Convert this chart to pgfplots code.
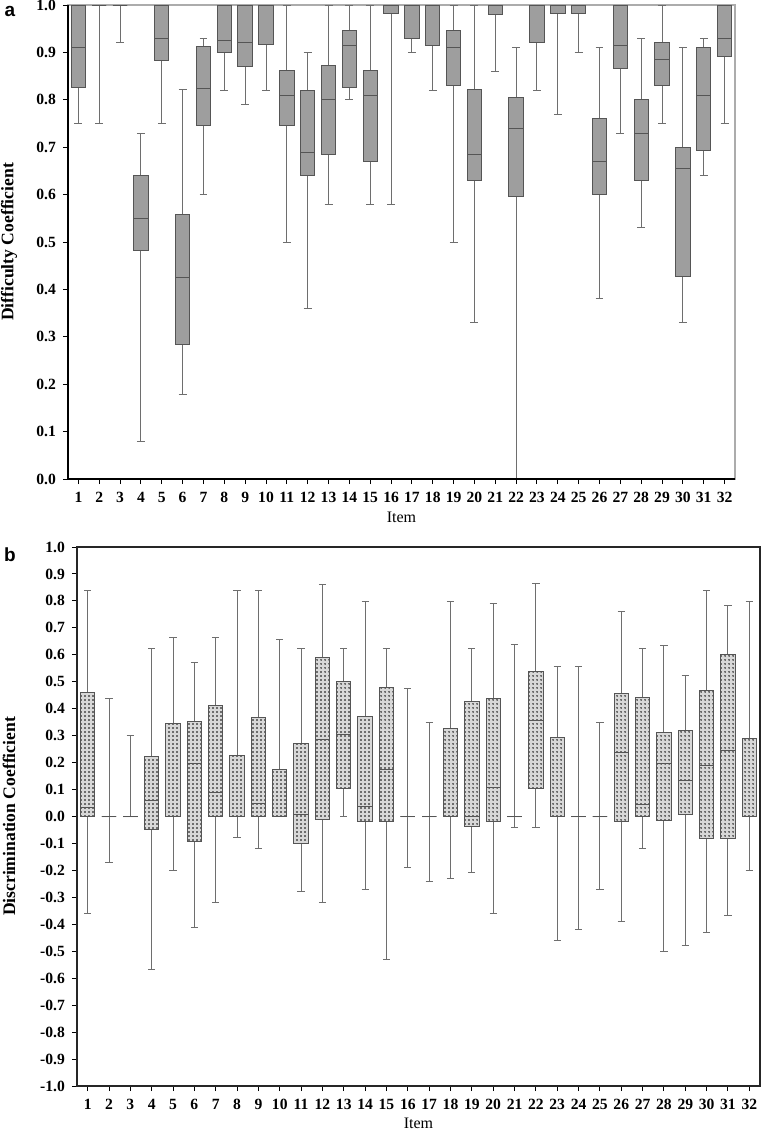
\documentclass[border=0pt]{standalone}
\usepackage{fontspec}
\setmainfont{Liberation Serif}
\newfontfamily\arialfont{Liberation Sans}
\usepackage{pgfplots}
\pgfplotsset{compat=1.18}
\usepgfplotslibrary{statistics}
\usetikzlibrary{patterns}

\definecolor{boxgray}{HTML}{9E9E9E}
\definecolor{boxedge}{HTML}{555555}
\definecolor{whiskgray}{HTML}{6E6E6E}
\definecolor{boxlight}{HTML}{D8D8D8}

\pgfdeclarepatternformonly{finedots}{\pgfqpoint{-0.5pt}{-0.5pt}}{\pgfqpoint{1.5pt}{1.5pt}}{\pgfqpoint{2pt}{2pt}}{\pgfpathcircle{\pgfqpoint{0.5pt}{0.5pt}}{0.38pt}\pgfusepath{fill}}

\pgfplotsset{
  panel/.style={
    scale only axis,
    anchor=south west,
    xmin=0.5, xmax=32.5,
    xtick={1,...,32},
    tick pos=left,
    tick align=outside,
    major tick length=2.5pt,
    tick style={black, line width=0.5pt},
    /pgf/number format/assume math mode=true,
    ticklabel style={font=\fontsize{7.8}{9}\selectfont\bfseries},
    yticklabel style={/pgf/number format/.cd, fixed, fixed zerofill, precision=1, assume math mode=true},
    xticklabel style={/pgf/number format/assume math mode=true, yshift=-0.5pt},
    xlabel={Item},
    xlabel style={font=\fontsize{8}{9}\selectfont, anchor=center},
    ylabel style={font=\fontsize{8.8}{10}\selectfont\bfseries, anchor=center},
  },
  boxA/.style={
    draw=boxedge, line width=0.5pt,
    boxplot/every box/.style={fill=boxgray, draw=boxedge},
    boxplot/every whisker/.style={draw=whiskgray},
    boxplot/every median/.style={draw=boxedge},
  },
  boxB/.style={
    draw=boxedge, line width=0.5pt,
    boxplot/every box/.style={fill=boxlight, draw=boxedge, postaction={pattern=finedots, pattern color=black}},
    boxplot/every whisker/.style={draw=whiskgray},
    boxplot/every median/.style={draw=boxedge},
  },
}
% item, lower whisker, lower quartile, median, upper quartile, upper whisker
\newcommand\bxA[6]{\addplot[boxA, boxplot prepared={draw direction=y, draw position=#1, lower whisker=#2, lower quartile=#3, median=#4, upper quartile=#5, upper whisker=#6, box extend=0.69, whisker extend=0.38}] coordinates {};}
\newcommand\bxB[6]{\addplot[boxB, boxplot prepared={draw direction=y, draw position=#1, lower whisker=#2, lower quartile=#3, median=#4, upper quartile=#5, upper whisker=#6, box extend=0.67, whisker extend=0.34}] coordinates {};}

\begin{document}
\begin{tikzpicture}
\useasboundingbox (0,0) rectangle (380.5pt,-564.5pt);

\begin{axis}[panel,
  at={(34pt,-239.5pt)},
  width=333.5pt, height=237pt,
  ymin=0, ymax=1,
  ytick={0,0.1,0.2,0.3,0.4,0.5,0.6,0.7,0.8,0.9,1.0},
  ylabel={Difficulty Coefficient},
  ylabel style={at={(axis description cs:-0.0885,0.5)}},
  xlabel style={at={(axis description cs:0.5,-0.080)}},
  axis line style={draw=gray!65, line width=0.6pt},
  clip=false,
]
\bxA{1}{0.75}{0.827}{0.91}{1.0}{1.0}
\bxA{2}{0.75}{1.0}{1.0}{1.0}{1.0}
\bxA{3}{0.92}{1.0}{1.0}{1.0}{1.0}
\bxA{4}{0.08}{0.483}{0.55}{0.641}{0.729}
\bxA{5}{0.75}{0.882}{0.93}{1.0}{1.0}
\bxA{6}{0.179}{0.284}{0.426}{0.557}{0.821}
\bxA{7}{0.60}{0.745}{0.824}{0.912}{0.929}
\bxA{8}{0.82}{0.90}{0.925}{1.0}{1.0}
\bxA{9}{0.79}{0.87}{0.92}{1.0}{1.0}
\bxA{10}{0.82}{0.917}{1.0}{1.0}{1.0}
\bxA{11}{0.50}{0.745}{0.81}{0.862}{1.0}
\bxA{12}{0.36}{0.64}{0.689}{0.82}{0.90}
\bxA{13}{0.58}{0.685}{0.80}{0.872}{1.0}
\bxA{14}{0.80}{0.827}{0.915}{0.946}{1.0}
\bxA{15}{0.58}{0.669}{0.81}{0.862}{1.0}
\bxA{16}{0.58}{0.982}{1.0}{1.0}{1.0}
\bxA{17}{0.90}{0.93}{1.0}{1.0}{1.0}
\bxA{18}{0.82}{0.915}{1.0}{1.0}{1.0}
\bxA{19}{0.50}{0.83}{0.91}{0.946}{1.0}
\bxA{20}{0.33}{0.63}{0.685}{0.822}{1.0}
\bxA{21}{0.86}{0.98}{1.0}{1.0}{1.0}
\bxA{22}{0.0}{0.595}{0.74}{0.805}{0.91}
\bxA{23}{0.82}{0.92}{1.0}{1.0}{1.0}
\bxA{24}{0.77}{0.982}{1.0}{1.0}{1.0}
\bxA{25}{0.90}{0.982}{1.0}{1.0}{1.0}
\bxA{26}{0.38}{0.60}{0.669}{0.76}{0.91}
\bxA{27}{0.729}{0.867}{0.915}{1.0}{1.0}
\bxA{28}{0.53}{0.63}{0.729}{0.80}{0.93}
\bxA{29}{0.75}{0.83}{0.885}{0.92}{1.0}
\bxA{30}{0.33}{0.428}{0.655}{0.70}{0.91}
\bxA{31}{0.64}{0.693}{0.81}{0.91}{0.929}
\bxA{32}{0.75}{0.892}{0.93}{1.0}{1.0}
\draw[black, line width=0.6pt] (rel axis cs:0,1) -- (rel axis cs:0,0) -- (rel axis cs:1,0);
\end{axis}

\begin{axis}[panel,
  at={(38.5pt,-543pt)},
  width=341.5pt, height=269.5pt,
  ymin=-1, ymax=1,
  ytick={-1.0,-0.9,-0.8,-0.7,-0.6,-0.5,-0.4,-0.3,-0.2,-0.1,0,0.1,0.2,0.3,0.4,0.5,0.6,0.7,0.8,0.9,1.0},
  ylabel={Discrimination Coefficient},
  ylabel style={at={(axis description cs:-0.0996,0.5)}},
  xlabel style={at={(axis description cs:0.5,-0.0686)}},
  axis line style={draw=black!85, line width=0.6pt},
]
\bxB{1}{-0.36}{0.0}{0.033}{0.461}{0.837}
\bxB{2}{-0.17}{0}{0}{0}{0.439}
\bxB{3}{0}{0}{0}{0}{0.30}
\bxB{4}{-0.568}{-0.048}{0.058}{0.224}{0.624}
\bxB{5}{-0.20}{0}{0}{0.346}{0.665}
\bxB{6}{-0.41}{-0.092}{0.195}{0.353}{0.571}
\bxB{7}{-0.318}{0}{0.09}{0.413}{0.665}
\bxB{8}{-0.079}{0}{0}{0.227}{0.837}
\bxB{9}{-0.12}{0}{0.049}{0.368}{0.837}
\bxB{10}{0}{0}{0}{0.175}{0.657}
\bxB{11}{-0.279}{-0.10}{0.009}{0.272}{0.625}
\bxB{12}{-0.318}{-0.01}{0.284}{0.591}{0.862}
\bxB{13}{0}{0.105}{0.306}{0.50}{0.624}
\bxB{14}{-0.27}{-0.018}{0.038}{0.372}{0.796}
\bxB{15}{-0.53}{-0.018}{0.175}{0.479}{0.624}
\bxB{16}{-0.189}{0}{0}{0}{0.474}
\bxB{17}{-0.24}{0}{0}{0}{0.35}
\bxB{18}{-0.23}{0}{0}{0.326}{0.796}
\bxB{19}{-0.208}{-0.036}{0}{0.427}{0.625}
\bxB{20}{-0.36}{-0.018}{0.108}{0.439}{0.79}
\bxB{21}{-0.04}{0}{0}{0}{0.638}
\bxB{22}{-0.04}{0.105}{0.358}{0.537}{0.863}
\bxB{23}{-0.459}{0}{0}{0.294}{0.556}
\bxB{24}{-0.419}{0}{0}{0}{0.556}
\bxB{25}{-0.27}{0}{0}{0}{0.35}
\bxB{26}{-0.389}{-0.02}{0.239}{0.456}{0.761}
\bxB{27}{-0.12}{0}{0.045}{0.442}{0.624}
\bxB{28}{-0.50}{-0.013}{0.196}{0.312}{0.635}
\bxB{29}{-0.48}{0.008}{0.135}{0.318}{0.524}
\bxB{30}{-0.43}{-0.081}{0.189}{0.468}{0.837}
\bxB{31}{-0.369}{-0.081}{0.246}{0.603}{0.782}
\bxB{32}{-0.20}{0}{0}{0.29}{0.796}
\end{axis}

\node[inner sep=0pt, font=\arialfont\bfseries\fontsize{9.5}{11}\selectfont] at (5pt,-5.5pt) {a};
\node[inner sep=0pt, font=\arialfont\bfseries\fontsize{9.5}{11}\selectfont] at (5pt,-277.5pt) {b};
\end{tikzpicture}
\end{document}
